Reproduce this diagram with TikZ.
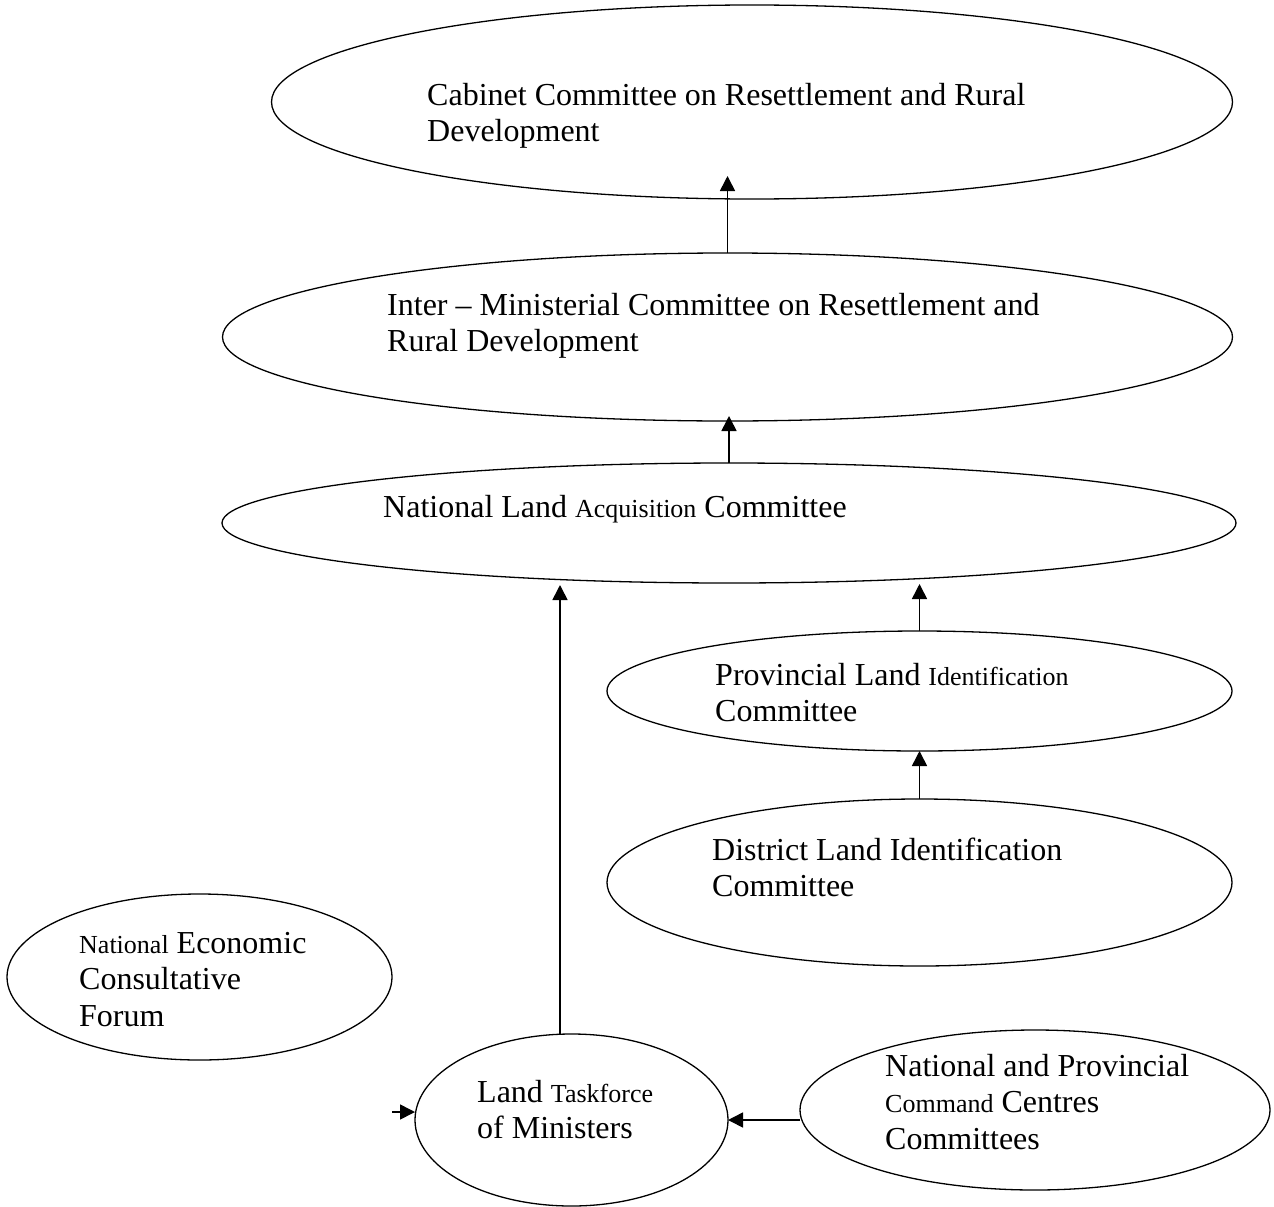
\documentclass[tikz,border=0pt]{standalone}
\usepackage{fontspec}
\setmainfont{Liberation Serif}
\usetikzlibrary{shapes.geometric,arrows.meta}
\newcommand{\lgf}{\fontsize{32}{36.8}\selectfont}
\newcommand{\smf}{\fontsize{26}{36.8}\selectfont}
\begin{document}
\begin{tikzpicture}[x=1pt,y=-1pt,
  oval/.style={draw, ellipse, line width=1.3pt, inner sep=0pt, outer sep=0pt},
  lbl/.style={anchor=base west, inner sep=0pt, font=\lgf},
  arr/.style={line width=1.6pt, -{Triangle[length=15pt,width=15pt]}}]
\useasboundingbox (0,0) rectangle (1274,1207);
\fill[white] (0,0) rectangle (1274,1207);

% ellipses
\node[oval, minimum width=961pt, minimum height=194pt] (cab) at (752,102) {};
\node[oval, minimum width=1010pt, minimum height=168pt] (inter) at (727.5,337) {};
\node[oval, minimum width=1014pt, minimum height=120pt] (nla) at (729,523) {};
\node[oval, minimum width=625pt, minimum height=120pt] (prov) at (919.5,691) {};
\node[oval, minimum width=625pt, minimum height=167pt] (dist) at (919.5,882.5) {};
\node[oval, minimum width=385pt, minimum height=166pt] (nec) at (199.5,977) {};
\node[oval, minimum width=313pt, minimum height=172pt] (ltf) at (571.5,1120) {};
\node[oval, minimum width=470pt, minimum height=160pt] (npc) at (1035,1110) {};

% texts
\node[lbl] (cabt) at (427,105) {\begin{tabular}[t]{@{}l@{}}Cabinet Committee on Resettlement and Rural\\Development\end{tabular}};
\node[lbl] (intert) at (387,315) {\begin{tabular}[t]{@{}l@{}}Inter -- Ministerial Committee on Resettlement and\\Rural Development\end{tabular}};
\node[lbl] (nlat) at (383,517) {National Land {\smf Acquisition} Committee};
\node[lbl] (provt) at (715,685) {\begin{tabular}[t]{@{}l@{}}Provincial Land {\smf Identification}\\Committee\end{tabular}};
\node[lbl] (distt) at (712,860) {\begin{tabular}[t]{@{}l@{}}District Land Identification\\Committee\end{tabular}};
\node[lbl] (nect) at (79,953) {\begin{tabular}[t]{@{}l@{}}{\smf National} Economic\\Consultative\\Forum\end{tabular}};
\node[lbl] (ltft) at (477,1102) {\begin{tabular}[t]{@{}l@{}}Land {\smf Taskforce}\\of Ministers\end{tabular}};
\node[lbl] (npct) at (885,1076) {\begin{tabular}[t]{@{}l@{}}National and Provincial\\{\smf Command} Centres\\Committees\end{tabular}};

% connectors
\coordinate (e1) at (727.5,176);
\draw[arr] (inter.north) -- (e1);
\coordinate (e2) at (729,416);
\draw[arr] (nla.north) -- (e2);
\coordinate (e3) at (560,585);
\draw[arr] (ltf.north -| e3) -- (e3);
\coordinate (e4) at (919.5,584);
\draw[arr] (prov.north) -- (e4);
\draw[arr] (dist.north) -- (prov.south);
\coordinate (s6) at (392,1112);
\draw[arr] (s6) -- (ltf.west |- s6);
\draw[arr] (npc.west |- ltf.east) -- (ltf.east);
\end{tikzpicture}
\end{document}
